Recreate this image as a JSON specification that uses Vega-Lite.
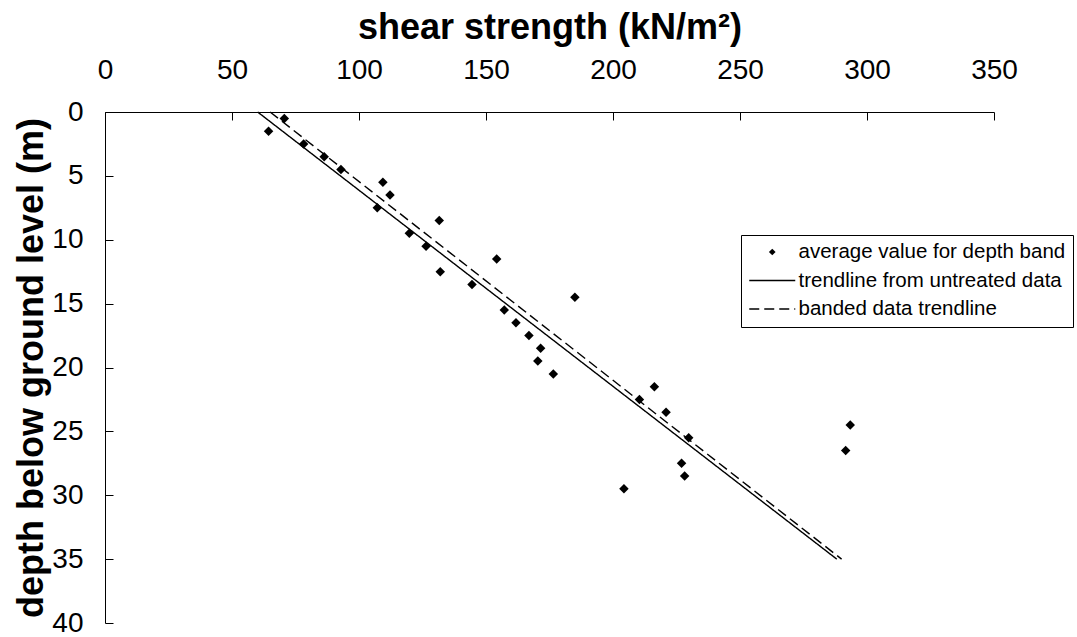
{
  "$schema": "https://vega.github.io/schema/vega-lite/v6.json",
  "autosize": {"type": "none"},
  "padding": {"left": 105, "top": 112, "right": 83, "bottom": 14},
  "width": 889,
  "height": 511,
  "background": "white",
  "datasets": {
    "bands": [
      {"series": "average value for depth band", "strength": 70.6, "depth": 0.5},
      {"series": "average value for depth band", "strength": 64.4, "depth": 1.5},
      {"series": "average value for depth band", "strength": 78.2, "depth": 2.5},
      {"series": "average value for depth band", "strength": 86.3, "depth": 3.5},
      {"series": "average value for depth band", "strength": 92.9, "depth": 4.5},
      {"series": "average value for depth band", "strength": 109.4, "depth": 5.5},
      {"series": "average value for depth band", "strength": 112.2, "depth": 6.5},
      {"series": "average value for depth band", "strength": 107.2, "depth": 7.5},
      {"series": "average value for depth band", "strength": 131.6, "depth": 8.5},
      {"series": "average value for depth band", "strength": 119.8, "depth": 9.5},
      {"series": "average value for depth band", "strength": 126.4, "depth": 10.5},
      {"series": "average value for depth band", "strength": 154.2, "depth": 11.5},
      {"series": "average value for depth band", "strength": 132.0, "depth": 12.5},
      {"series": "average value for depth band", "strength": 144.5, "depth": 13.5},
      {"series": "average value for depth band", "strength": 185.0, "depth": 14.5},
      {"series": "average value for depth band", "strength": 157.2, "depth": 15.5},
      {"series": "average value for depth band", "strength": 161.8, "depth": 16.5},
      {"series": "average value for depth band", "strength": 166.9, "depth": 17.5},
      {"series": "average value for depth band", "strength": 171.5, "depth": 18.5},
      {"series": "average value for depth band", "strength": 170.4, "depth": 19.5},
      {"series": "average value for depth band", "strength": 176.5, "depth": 20.5},
      {"series": "average value for depth band", "strength": 216.3, "depth": 21.5},
      {"series": "average value for depth band", "strength": 210.4, "depth": 22.5},
      {"series": "average value for depth band", "strength": 220.9, "depth": 23.5},
      {"series": "average value for depth band", "strength": 293.4, "depth": 24.5},
      {"series": "average value for depth band", "strength": 229.8, "depth": 25.5},
      {"series": "average value for depth band", "strength": 291.6, "depth": 26.5},
      {"series": "average value for depth band", "strength": 227.0, "depth": 27.5},
      {"series": "average value for depth band", "strength": 228.2, "depth": 28.5},
      {"series": "average value for depth band", "strength": 204.3, "depth": 29.5}
    ],
    "trends": [
      {"series": "trendline from untreated data", "strength": 60.1, "depth": 0},
      {"series": "trendline from untreated data", "strength": 288.1, "depth": 35},
      {"series": "banded data trendline", "strength": 65.0, "depth": 0},
      {"series": "banded data trendline", "strength": 290.0, "depth": 35}
    ]
  },
  "config": {
    "view": {"stroke": null},
    "font": "Liberation Sans",
    "axis": {
      "grid": false,
      "domainColor": "#000000",
      "domainWidth": 1,
      "tickColor": "#000000",
      "tickWidth": 1,
      "tickSize": -8,
      "labelFlush": false,
      "labelOverlap": false,
      "labelFont": "Liberation Sans",
      "labelFontSize": 28,
      "labelColor": "#000000",
      "titleFont": "Liberation Sans",
      "titleFontSize": 36,
      "titleFontWeight": "bold",
      "titleColor": "#000000"
    },
    "legend": {
      "orient": "none",
      "legendX": 636,
      "legendY": 123,
      "direction": "vertical",
      "columns": 1,
      "padding": 7,
      "fillColor": "white",
      "strokeColor": "#000000",
      "strokeWidth": 1,
      "cornerRadius": 0,
      "symbolStrokeWidth": 1.4,
      "symbolStrokeColor": "#000000",
      "symbolOffset": 14,
      "clipHeight": 20,
      "rowPadding": 7.5,
      "labelOffset": 16,
      "labelFont": "Liberation Sans",
      "labelFontSize": 20.5,
      "labelColor": "#000000",
      "labelLimit": 400
    }
  },
  "encoding": {
    "x": {
      "field": "strength",
      "type": "quantitative",
      "scale": {"domain": [0, 350], "nice": false, "zero": false},
      "axis": {
        "orient": "top",
        "values": [0, 50, 100, 150, 200, 250, 300, 350],
        "labelBaseline": "alphabetic",
        "labelPadding": 42,
        "title": "shear strength (kN/m²)",
        "titleBaseline": "alphabetic",
        "titleY": -74
      }
    },
    "y": {
      "field": "depth",
      "type": "quantitative",
      "scale": {"domain": [0, 40], "nice": false, "reverse": true},
      "axis": {
        "values": [0, 5, 10, 15, 20, 25, 30, 35, 40],
        "labelPadding": 30,
        "title": "depth below ground level (m)",
        "titleAngle": -90,
        "titleBaseline": "alphabetic",
        "titleX": -63
      }
    }
  },
  "layer": [
    {
      "data": {"name": "trends"},
      "mark": {"type": "line", "color": "#000000", "strokeWidth": 1.4},
      "encoding": {
        "detail": {"field": "series"},
        "strokeDash": {
          "field": "series",
          "type": "nominal",
          "scale": {
            "domain": ["average value for depth band", "trendline from untreated data", "banded data trendline"],
            "range": [[1, 0], [1, 0], [10, 5]]
          },
          "legend": {
            "title": null,
            "encode": {
              "symbols": {
                "update": {
                  "size": {"signal": "datum.value === 'average value for depth band' ? 45 : 2116"},
                  "fill": {"signal": "datum.value === 'average value for depth band' ? '#000000' : 'transparent'"},
                  "stroke": {"value": "#000000"},
                  "strokeWidth": {"signal": "datum.value === 'average value for depth band' ? 0 : 1.4"}
                }
              }
            }
          }
        }
      }
    },
    {
      "data": {"name": "bands"},
      "mark": {"type": "point", "filled": true, "color": "#000000", "size": 90, "opacity": 1},
      "encoding": {
        "shape": {
          "field": "series",
          "type": "nominal",
          "scale": {
            "domain": ["average value for depth band", "trendline from untreated data", "banded data trendline"],
            "range": ["diamond", "stroke", "stroke"]
          },
          "legend": {
            "title": null,
            "encode": {
              "symbols": {
                "update": {
                  "size": {"signal": "datum.value === 'average value for depth band' ? 45 : 2116"},
                  "fill": {"signal": "datum.value === 'average value for depth band' ? '#000000' : 'transparent'"},
                  "stroke": {"value": "#000000"},
                  "strokeWidth": {"signal": "datum.value === 'average value for depth band' ? 0 : 1.4"}
                }
              }
            }
          }
        }
      }
    }
  ]
}
